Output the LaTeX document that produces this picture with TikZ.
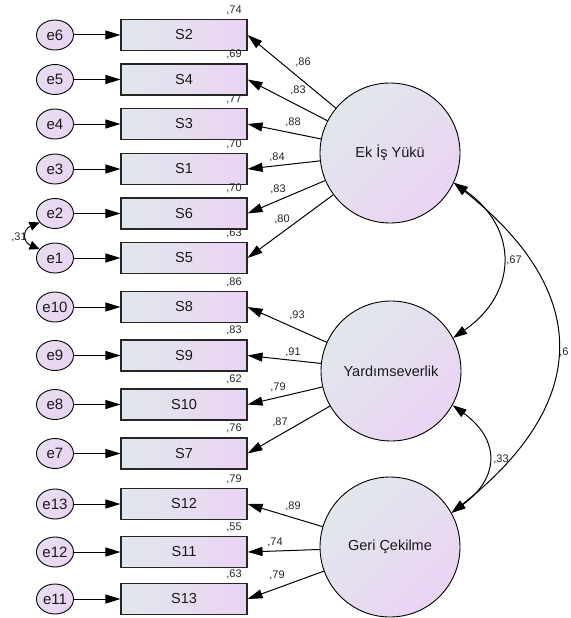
\documentclass[tikz,border=0pt]{standalone}
\usepackage{fontspec}
\setmainfont{Liberation Sans}
\usetikzlibrary{arrows.meta,shapes.geometric}
\definecolor{fillA}{RGB}{224,232,236}
\definecolor{fillB}{RGB}{235,211,243}
\begin{document}
\begin{tikzpicture}[x=1pt,y=-1pt,
  obs/.style={draw=black!85, line width=1.1pt, minimum width=126pt, minimum height=31pt, inner sep=0pt,
    left color=fillA, right color=fillB, font=\fontsize{14.5}{16}\selectfont, text=black!90},
  err/.style={ellipse, draw=black, line width=0.9pt, minimum width=37pt, minimum height=30pt, inner sep=0pt,
    top color=fillA!50!fillB, bottom color=fillB, shading angle=45, font=\fontsize{15}{17}\selectfont, text=black!90},
  lat/.style={circle, draw=black, line width=0.9pt, minimum size=140pt, inner sep=0pt,
    top color=fillA, bottom color=fillB, shading angle=45, font=\fontsize{14.5}{16}\selectfont, text=black!90},
  arr/.style={-{Triangle[length=15pt,width=9pt]}, line width=1pt},
  cov/.style={{Triangle[length=14pt,width=9pt]}-{Triangle[length=14pt,width=9pt]}, line width=1pt},
  smallcov/.style={{Triangle[length=10pt,width=9pt]}-{Triangle[length=10pt,width=9pt]}, line width=1pt},
  lbl/.style={font=\fontsize{11}{12}\selectfont, inner sep=0pt, text=black!85}
]
\fill[white, use as bounding box] (0,0) rectangle (570,618);

% observed variables
\node[obs] (s2)  at (184,35)    {S2};
\node[obs] (s4)  at (184,79.5)  {S4};
\node[obs] (s3)  at (184,124)   {S3};
\node[obs] (s1)  at (184,169)   {S1};
\node[obs] (s6)  at (184,213.5) {S6};
\node[obs] (s5)  at (184,258)   {S5};
\node[obs] (s8)  at (184,307)   {S8};
\node[obs] (s9)  at (184,355.5) {S9};
\node[obs] (s10) at (184,404.5) {S10};
\node[obs] (s7)  at (184,453.5) {S7};
\node[obs] (s12) at (184,504)   {S12};
\node[obs] (s11) at (184,552)   {S11};
\node[obs] (s13) at (184,599)   {S13};

% errors
\node[err] (e6)  at (55,35)    {e6};
\node[err] (e5)  at (55,79.5)  {e5};
\node[err] (e4)  at (55,124)   {e4};
\node[err] (e3)  at (55,169)   {e3};
\node[err] (e2)  at (55,213.5) {e2};
\node[err] (e1)  at (55,258)   {e1};
\node[err] (e10) at (55,307)   {e10};
\node[err] (e9)  at (55,355.5) {e9};
\node[err] (e8)  at (55,404.5) {e8};
\node[err] (e7)  at (55,453.5) {e7};
\node[err] (e13) at (55,504)   {e13};
\node[err] (e12) at (55,552)   {e12};
\node[err] (e11) at (55,599)   {e11};

\foreach \e/\s in {e6/s2,e5/s4,e4/s3,e3/s1,e2/s6,e1/s5,e10/s8,e9/s9,e8/s10,e7/s7,e13/s12,e12/s11,e11/s13}
  \draw[arr] (\e) -- (\s);

% latent variables
\node[lat] (ek)   at (390,153) {Ek İş Yükü};
\node[lat] (yard) at (391,371) {Yardımseverlik};
\node[lat] (geri) at (390,547) {Geri Çekilme};

\foreach \s in {s2,s4,s3,s1,s6,s5} \draw[arr] (ek) -- (\s.east);
\foreach \s in {s8,s9,s10,s7} \draw[arr] (yard) -- (\s.east);
\foreach \s in {s12,s11,s13} \draw[arr] (geri) -- (\s.east);

% squared multiple correlations
\node[lbl] (r2)  at (234,10)    {,74};
\node[lbl] (r4)  at (234,54.5)  {,69};
\node[lbl] (r3)  at (234,99)    {,77};
\node[lbl] (r1)  at (234,144)   {,70};
\node[lbl] (r6)  at (234,188.5) {,70};
\node[lbl] (r5)  at (234,233)   {,63};
\node[lbl] (r8)  at (234,282)   {,86};
\node[lbl] (r9)  at (234,330.5) {,83};
\node[lbl] (r10) at (234,379.5) {,62};
\node[lbl] (r7)  at (234,428.5) {,76};
\node[lbl] (r12) at (234,479)   {,79};
\node[lbl] (r11) at (234,527)   {,55};
\node[lbl] (r13) at (234,574)   {,63};

% loadings
\node[lbl] (l2)  at (303,62)  {,86};
\node[lbl] (l4)  at (298,90)  {,83};
\node[lbl] (l3)  at (293,122) {,88};
\node[lbl] (l1)  at (277,157) {,84};
\node[lbl] (l6)  at (278,189) {,83};
\node[lbl] (l5)  at (282,219) {,80};
\node[lbl] (l8)  at (297,315) {,93};
\node[lbl] (l9)  at (293,352) {,91};
\node[lbl] (l10) at (278,387) {,79};
\node[lbl] (l7)  at (280,422) {,87};
\node[lbl] (l12) at (293,506) {,89};
\node[lbl] (l11) at (275,542) {,74};
\node[lbl] (l13) at (277,575) {,79};

% covariances
\node[lbl] (c67) at (514,260) {,67};
\node[lbl] (c6)  at (564,352) {,6};
\node[lbl] (c33) at (501,459) {,33};
\node[lbl] (c31) at (19,237)  {,31};

\draw[cov] (ek.-25) .. controls +(65,45) and +(65,-45) .. (yard.28);
\draw[cov] (ek.-25) .. controls +(139,110) and +(139,-110) .. (geri.29);
\draw[cov] (yard.-29) .. controls +(48,35) and +(48,-35) .. (geri.29);
\draw[smallcov] (e2.210) .. controls +(-17,7) and +(-17,-7) .. (e1.150);
\end{tikzpicture}
\end{document}
